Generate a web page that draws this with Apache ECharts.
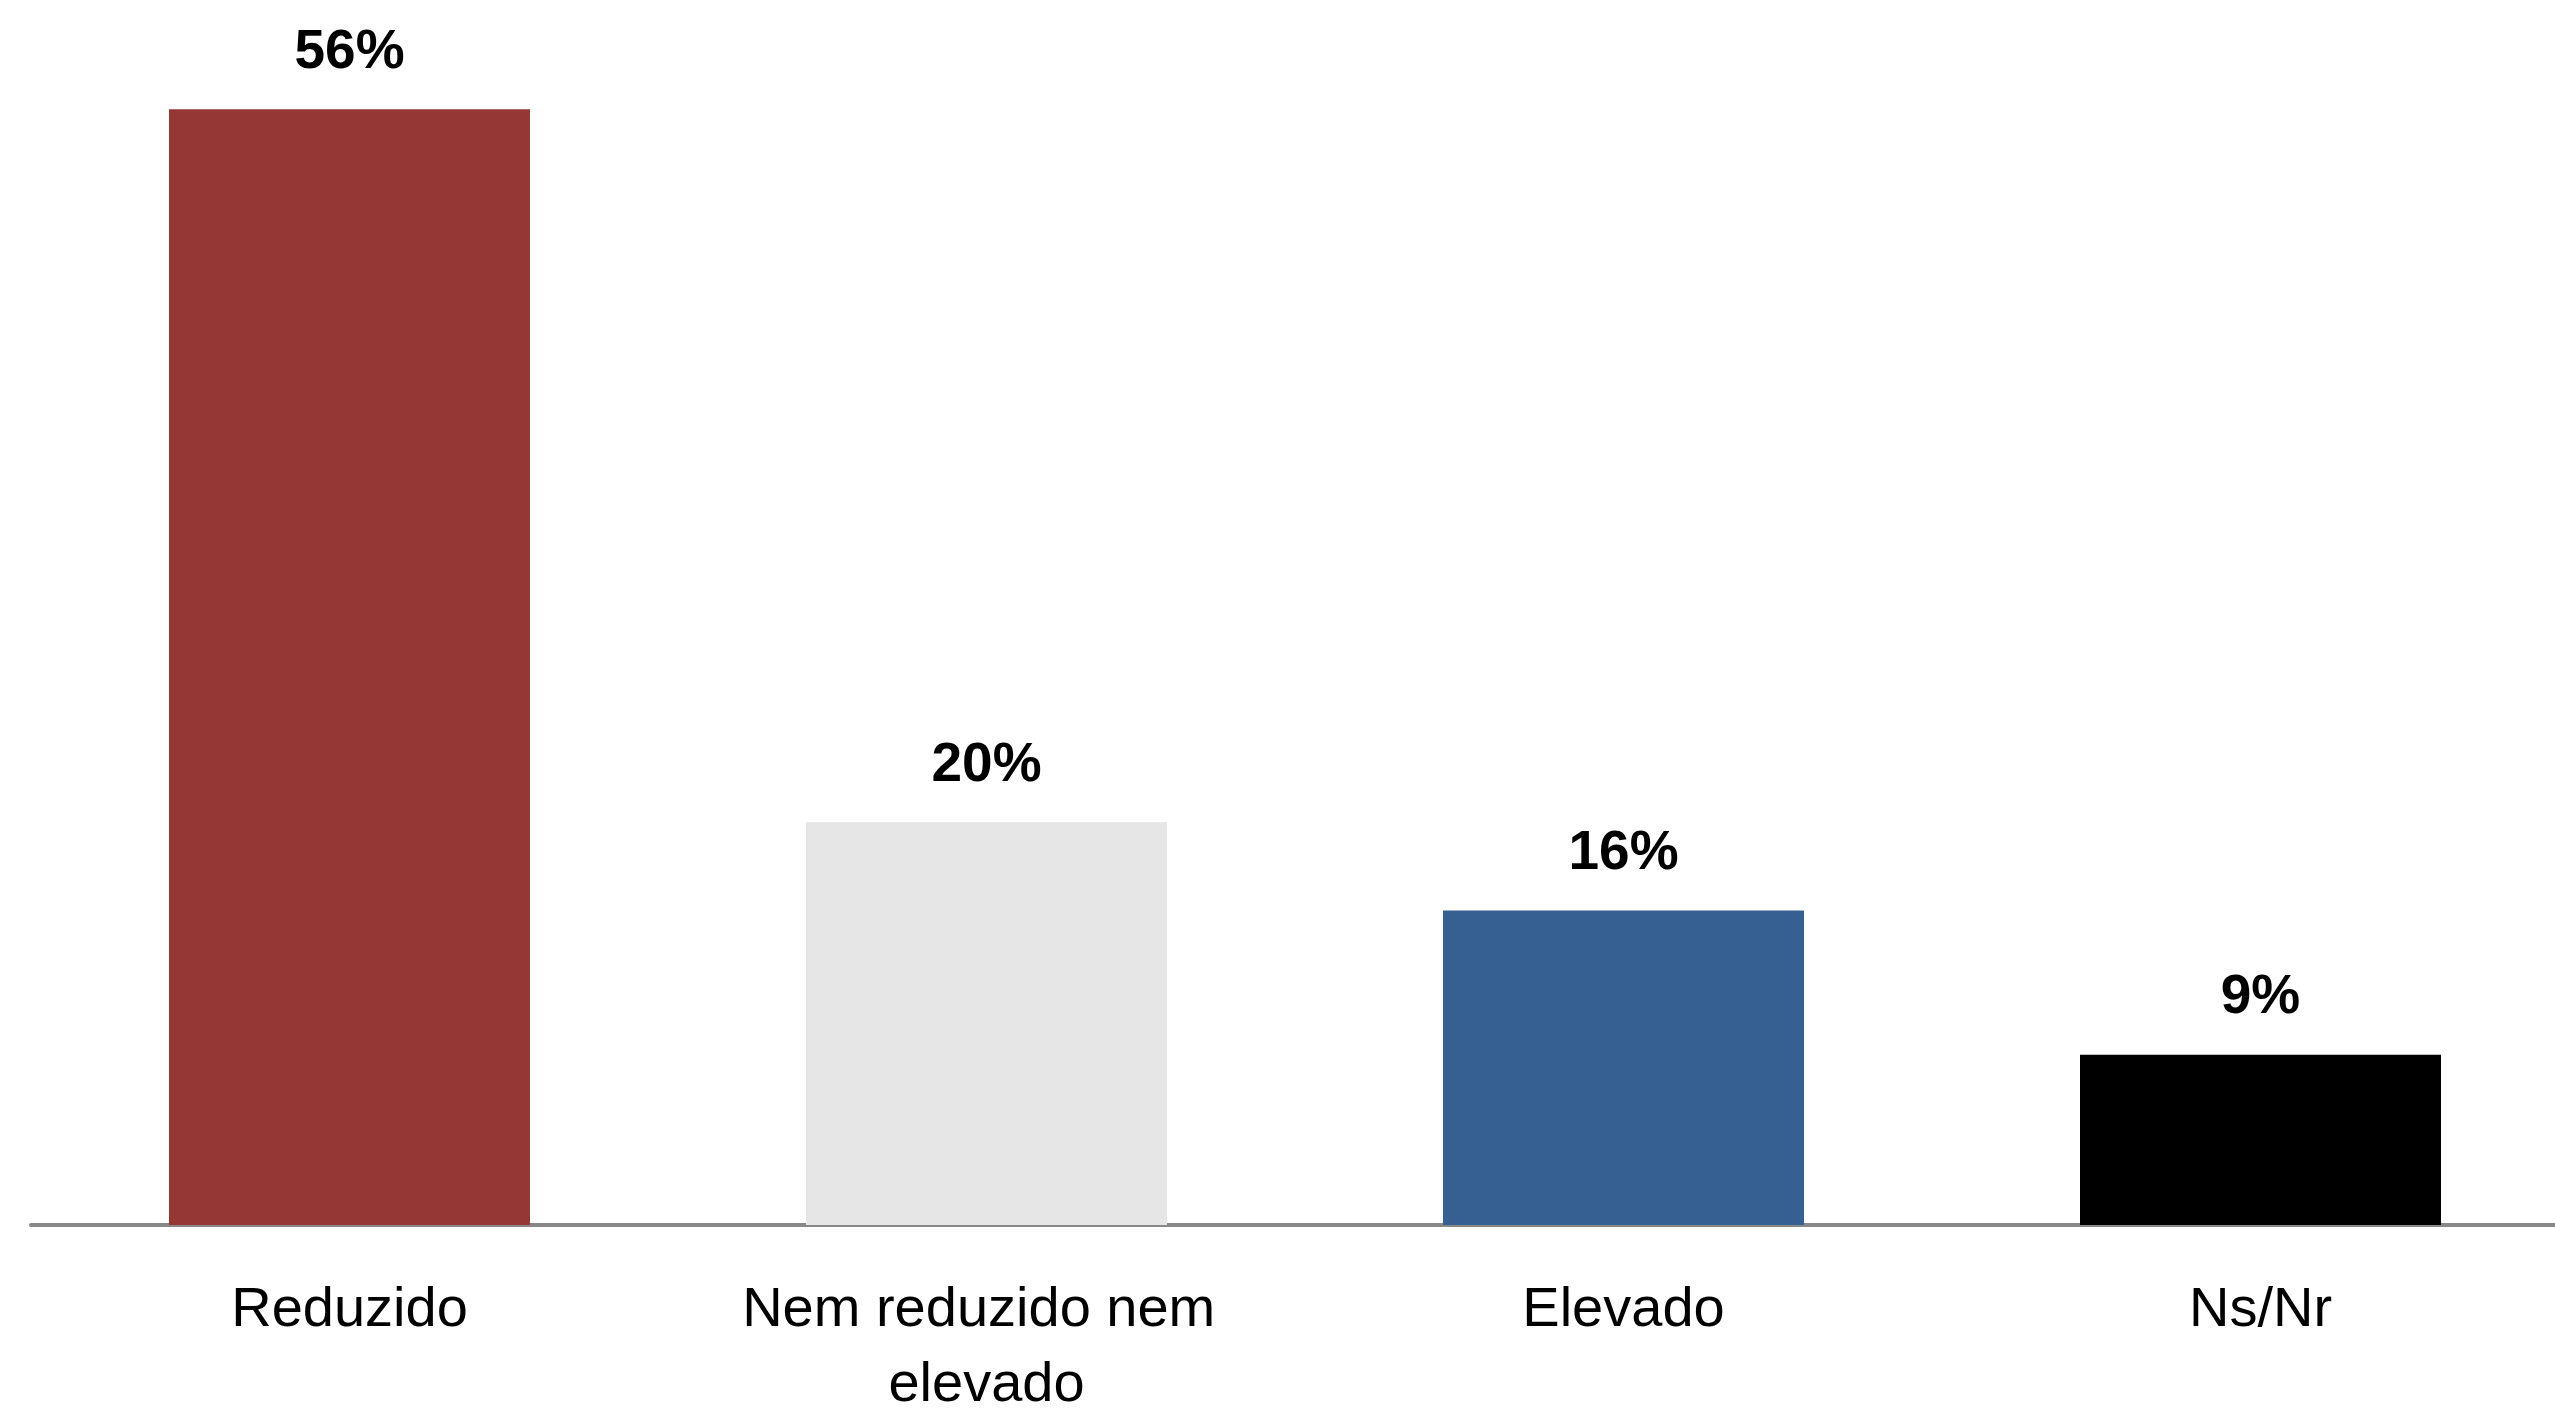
<!DOCTYPE html>
<html>
<head>
<meta charset="utf-8">
<style>
  html, body { margin: 0; padding: 0; background: #ffffff; overflow: hidden; }
  #chart { width: 2555px; height: 1408px; }
</style>
<script src="https://cdn.jsdelivr.net/npm/echarts@6/dist/echarts.min.js"></script>
</head>
<body>
<div id="chart"></div>
<script>
const categories = ['Reduzido', 'Nem reduzido nem elevado', 'Elevado', 'Ns/Nr'];
const values = [55.7, 20.1, 15.7, 8.5];
const barColors = ['#953735', '#E6E6E6', '#376092', '#000000'];

const chart = echarts.init(document.getElementById('chart'), null, { renderer: 'canvas' });
chart.setOption({
  backgroundColor: '#ffffff',
  animation: false,
  grid: { left: 31, right: -24, top: 23, bottom: 183, containLabel: false, outerBoundsMode: 'none' },
  xAxis: {
    type: 'category',
    data: categories,
    axisLine: { show: true, lineStyle: { color: '#888888', width: 4 } },
    axisTick: { show: false },
    axisLabel: {
      interval: 0,
      margin: 48,
      fontFamily: 'Liberation Sans, Arial, sans-serif',
      fontSize: 56,
      lineHeight: 75,
      color: '#000000',
      width: 560,
      overflow: 'break'
    }
  },
  yAxis: { type: 'value', min: 0, max: 60, show: false, splitLine: { show: false } },
  series: [{
    type: 'bar',
    barWidth: 361,
    data: values.map((v, i) => ({ value: v, itemStyle: { color: barColors[i] } })),
    label: {
      show: true, position: 'top', distance: 29,
      fontFamily: 'Liberation Sans, Arial, sans-serif', fontWeight: 'bold', fontSize: 55,
      color: '#000000', formatter: p => Math.round(p.value) + '%'
    }
  }]
});
</script>
</body>
</html>
